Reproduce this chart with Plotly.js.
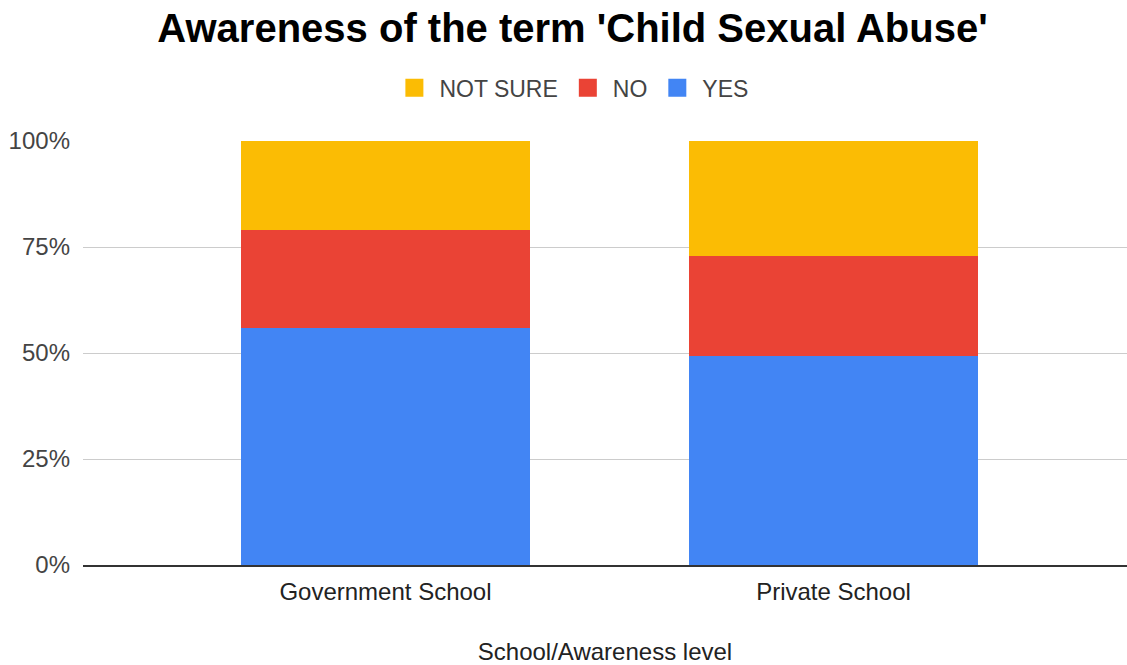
<!DOCTYPE html>
<html>
<head>
<meta charset="utf-8">
<script src="https://cdn.plot.ly/plotly-3.0.1.min.js"></script>
<style>html,body{margin:0;padding:0;background:#fff;}#chart{width:1127px;height:665px;}</style>
</head>
<body>
<div id="chart"></div>
<script>
const categories = ["Government School", "Private School"];
const yesValues = [55.8, 49.3];
const noValues = [23.1, 23.6];
const notSureValues = [21.1, 27.1];
const seriesNames = ["YES", "NO", "NOT SURE"];
const seriesColors = ["#4285F4", "#EA4335", "#FBBC04"];
const tickVals = [0, 25, 50, 75, 100];
const tickText = ["0%", "25%", "50%", "75%", "100%"];

const seriesValues = [yesValues, noValues, notSureValues];
const traces = seriesNames.map((name, i) => ({
  type: "bar",
  name: name,
  legendgroup: name,
  showlegend: false,
  x: categories,
  y: seriesValues[i],
  marker: { color: seriesColors[i], line: { width: 0 } },
  width: 0.645,
  hoverinfo: "x+y+name"
}));
// legend-only entries with larger square swatches
seriesNames.forEach((name, i) => {
  traces.push({
    type: "scatter",
    mode: "markers",
    name: name,
    legendgroup: name,
    showlegend: true,
    x: [null],
    y: [null],
    marker: { symbol: "square", size: 16, color: seriesColors[i], line: { width: 2, color: seriesColors[i] } },
    hoverinfo: "skip"
  });
});

const font = "Arial, 'Liberation Sans', sans-serif";
const layout = {
  width: 1127,
  height: 665,
  paper_bgcolor: "#ffffff",
  plot_bgcolor: "#ffffff",
  barmode: "stack",
  margin: { l: 83, r: 0, t: 141, b: 100 },
  title: {
    text: "<b>Awareness of the term 'Child Sexual Abuse'</b>",
    font: { family: font, size: 40, color: "#000000" },
    xref: "container", x: 0.508, xanchor: "center",
    yref: "container", y: 0.958, yanchor: "middle"
  },
  showlegend: true,
  legend: {
    orientation: "h",
    traceorder: "reversed",
    itemsizing: "trace",
    xref: "container", x: 0.507, xanchor: "center",
    yref: "container", y: 0.868, yanchor: "middle",
    font: { family: font, size: 23, color: "#444444" },
    itemwidth: 40
  },
  xaxis: {
    type: "category",
    range: [-0.675, 1.655],
    showgrid: false,
    zeroline: false,
    showline: true,
    linecolor: "#333333",
    linewidth: 1.5,
    ticks: "",
    ticklabelstandoff: 4,
    tickfont: { family: font, size: 24, color: "#222222" },
    title: {
      text: "School/Awareness level",
      font: { family: font, size: 24, color: "#222222" },
      standoff: 46
    },
    automargin: false
  },
  yaxis: {
    range: [0, 100],
    tickvals: tickVals,
    ticktext: tickText,
    showgrid: true,
    gridcolor: "#cccccc",
    gridwidth: 1,
    zeroline: false,
    showline: false,
    ticks: "",
    ticklabelstandoff: 12,
    tickfont: { family: font, size: 24, color: "#444444" },
    automargin: false
  }
};

Plotly.newPlot("chart", traces, layout, { displayModeBar: false, responsive: false });
</script>
</body>
</html>
